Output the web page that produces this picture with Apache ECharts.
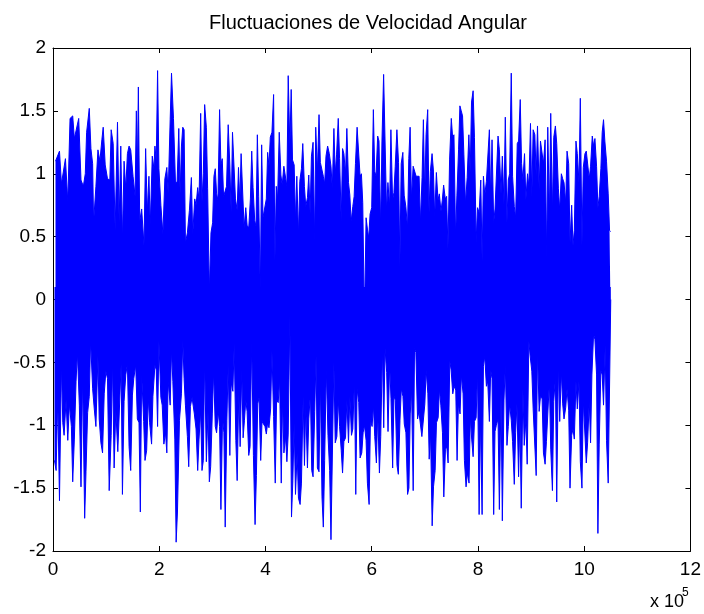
<!DOCTYPE html>
<html>
<head>
<meta charset="utf-8">
<script src="https://cdn.jsdelivr.net/npm/echarts@6/dist/echarts.min.js"></script>
<style>html,body{margin:0;padding:0;background:#fff;}#c{width:704px;height:614px;}</style>
</head>
<body>
<div id="c"></div>
<script>
// x in units of 1e5 samples, y = angular velocity fluctuation
const titleText = 'Fluctuaciones de Velocidad Angular';
const xTicks = [0, 2, 4, 6, 8, 10, 12];
const yTicks = [-2, -1.5, -1, -0.5, 0, 0.5, 1, 1.5, 2];
const xExponentBase = 'x 10';
const xExponent = '5';

// upper peaks of the signal
const upper = [
[0.047,1.10],[0.122,1.18],[0.159,0.92],[0.234,1.12],[0.278,0.78],[0.321,1.44],[0.371,1.46],[0.402,1.28],[0.484,1.44],[0.527,0.95],[0.571,0.90],[0.608,1.00],[0.633,1.33],[0.683,1.52],[0.714,1.20],[0.746,1.08],[0.764,0.61],[0.808,0.90],[0.846,1.19],[0.883,1.10],[0.920,1.27],[0.945,1.37],[0.983,1.07],[1.026,0.96],[1.070,0.95],[1.095,1.35],[1.133,1.24],[1.170,0.55],[1.214,1.41],[1.245,0.61],[1.276,1.22],[1.307,0.47],[1.338,1.10],[1.370,0.88],[1.401,1.16],[1.432,1.22],[1.463,1.19],[1.507,0.98],[1.545,0.82],[1.569,1.50],[1.588,1.00],[1.607,1.69],[1.632,0.62],[1.669,0.72],[1.713,0.43],[1.744,1.20],[1.775,0.69],[1.806,0.98],[1.831,0.59],[1.869,1.14],[1.900,1.04],[1.919,1.22],[1.944,1.10],[1.969,1.82],[1.994,1.04],[2.031,0.75],[2.069,0.52],[2.106,0.96],[2.143,1.05],[2.168,0.84],[2.206,1.43],[2.231,1.80],[2.268,1.44],[2.306,0.92],[2.337,0.94],[2.368,1.36],[2.393,0.84],[2.418,1.22],[2.443,1.37],[2.468,1.35],[2.493,0.45],[2.530,0.53],[2.568,0.71],[2.605,0.97],[2.630,0.51],
[2.668,0.80],[2.693,0.75],[2.724,0.89],[2.749,0.79],[2.780,1.48],[2.805,0.78],[2.830,1.00],[2.855,1.55],[2.887,1.37],[2.911,0.88],[2.943,0.06],[2.974,0.53],[3.005,0.61],[3.030,0.98],[3.055,1.04],[3.080,0.84],[3.105,0.79],[3.136,1.51],[3.161,1.07],[3.186,1.12],[3.211,0.82],[3.242,0.83],[3.267,0.90],[3.298,1.39],[3.329,1.07],[3.354,0.69],[3.379,1.33],[3.411,1.32],[3.435,0.80],[3.467,0.71],[3.492,1.05],[3.517,0.77],[3.541,1.16],[3.573,1.16],[3.598,0.57],[3.629,0.73],[3.654,0.59],[3.685,0.57],[3.716,0.80],[3.741,1.18],[3.766,0.89],[3.797,0.63],[3.822,0.58],[3.847,1.31],[3.872,0.82],[3.903,0.04],[3.928,1.23],[3.953,0.65],[3.984,0.65],[4.016,0.80],[4.041,1.17],[4.066,1.06],[4.091,1.29],[4.122,1.33],[4.153,1.63],[4.178,0.31],[4.203,0.90],[4.228,0.80],[4.259,1.33],[4.290,0.99],[4.315,0.91],[4.346,1.06],[4.371,1.06],[4.403,0.90],[4.428,1.78],[4.459,1.22],[4.484,1.67],[4.509,1.11],[4.540,1.07],[4.565,0.63],[4.590,0.98],[4.621,0.51],[4.646,0.94],[4.677,1.04],[4.702,1.24],[4.733,0.90],[4.758,0.74],[4.790,0.81],[4.815,0.99],[4.840,0.68],[4.865,1.14],[4.896,1.25],[4.927,0.45],[4.946,1.37],[4.977,1.01],[5.008,1.47],[5.033,1.09],[5.064,1.08],[5.089,0.98],[5.114,0.92],[5.139,1.14],[5.170,1.22],[5.202,1.16],[5.233,1.06],[5.258,0.88],
[5.288,1.36],[5.313,1.00],[5.338,1.15],[5.370,1.44],[5.395,1.12],[5.426,0.62],[5.451,1.20],[5.476,1.16],[5.507,1.00],[5.532,1.36],[5.563,0.93],[5.588,0.83],[5.613,0.62],[5.644,0.74],[5.669,0.82],[5.694,1.08],[5.725,1.37],[5.756,1.38],[5.781,0.98],[5.806,1.00],[5.831,0.77],[5.863,-0.18],[5.894,0.65],[5.919,0.56],[5.944,0.49],[5.969,0.68],[6.000,0.73],[6.031,1.51],[6.056,1.02],[6.081,0.98],[6.112,1.30],[6.137,1.26],[6.168,0.57],[6.193,1.26],[6.224,1.79],[6.249,1.30],[6.280,0.70],[6.305,0.93],[6.337,0.74],[6.361,1.35],[6.393,0.79],[6.418,0.85],[6.443,1.06],[6.474,1.35],[6.505,1.09],[6.530,0.26],[6.555,1.08],[6.586,1.17],[6.611,0.83],[6.642,0.74],[6.674,0.57],[6.698,1.12],[6.723,1.37],[6.748,0.80],[6.780,1.06],[6.805,1.05],[6.836,0.98],[6.861,0.98],[6.892,0.98],[6.917,0.61],[6.948,0.97],[6.973,1.43],[6.998,0.83],[7.023,1.31],[7.054,1.51],[7.079,0.69],[7.104,1.02],[7.136,1.16],[7.161,1.03],[7.186,0.65],[7.217,1.01],[7.248,0.79],[7.273,0.84],[7.304,0.70],[7.329,0.79],[7.354,0.91],[7.385,0.80],[7.410,0.82],[7.435,0.40],[7.466,1.11],[7.498,1.44],[7.523,1.29],[7.548,1.31],[7.579,0.50],[7.604,0.83],[7.635,1.19],[7.660,1.54],[7.685,1.50],[7.710,1.46],[7.735,1.15],[7.766,0.76],[7.797,0.97],[7.829,1.31],[7.854,1.01],[7.879,1.57],
[7.909,1.66],[7.934,1.29],[7.966,0.46],[7.991,0.73],[8.022,0.69],[8.053,0.95],[8.078,0.30],[8.103,0.98],[8.128,0.83],[8.159,0.94],[8.184,0.94],[8.215,1.35],[8.240,0.80],[8.265,1.27],[8.296,0.61],[8.321,0.72],[8.346,0.73],[8.378,1.30],[8.403,1.19],[8.434,0.84],[8.459,1.14],[8.490,0.76],[8.515,1.45],[8.546,0.61],[8.571,0.95],[8.596,1.00],[8.627,1.80],[8.652,0.98],[8.684,0.74],[8.709,0.65],[8.740,1.24],[8.765,1.26],[8.796,1.59],[8.821,1.08],[8.846,0.95],[8.877,1.16],[8.902,0.79],[8.933,1.00],[8.958,0.90],[8.989,1.40],[9.014,0.81],[9.039,1.35],[9.071,1.31],[9.096,0.98],[9.121,1.38],[9.152,0.87],[9.177,1.26],[9.208,1.26],[9.233,1.08],[9.264,1.27],[9.295,0.32],[9.314,1.37],[9.345,0.66],[9.370,1.48],[9.402,0.69],[9.427,1.29],[9.458,1.38],[9.483,1.24],[9.514,0.88],[9.539,0.71],[9.570,1.00],[9.595,0.96],[9.620,0.93],[9.652,0.77],[9.677,1.18],[9.708,1.08],[9.733,0.45],[9.764,0.75],[9.789,0.43],[9.814,0.55],[9.845,1.26],[9.870,1.16],[9.902,0.93],[9.927,1.60],[9.958,0.43],[9.983,1.05],[10.014,1.16],[10.039,1.18],[10.064,1.17],[10.095,0.96],[10.120,1.06],[10.152,1.30],[10.177,1.22],[10.202,1.28],[10.233,1.06],[10.258,0.73],[10.283,0.82],[10.314,1.04],[10.339,1.33],[10.364,1.43],[10.389,1.26],[10.420,1.10],[10.452,0.84],[10.477,0.55],[10.496,0.54]
];

// lower troughs of the signal
const lower = [
[0.028,-1.28],[0.059,-1.36],[0.090,-0.78],[0.122,-1.60],[0.159,-0.51],[0.184,-0.98],[0.209,-1.08],[0.246,-0.80],[0.278,-1.12],[0.309,-0.83],[0.346,-1.01],[0.371,-1.45],[0.402,-1.11],[0.434,-0.65],[0.459,-0.42],[0.496,-0.84],[0.527,-1.49],[0.558,-0.60],[0.596,-1.74],[0.621,-1.37],[0.652,-0.90],[0.683,-0.77],[0.708,-0.32],[0.746,-0.71],[0.777,-0.87],[0.808,-1.01],[0.846,-0.45],[0.870,-0.95],[0.902,-1.14],[0.933,-1.22],[0.964,-0.75],[0.995,-0.57],[1.026,-0.63],[1.058,-1.52],[1.095,-1.08],[1.120,-0.49],[1.151,-1.34],[1.182,-0.88],[1.220,-1.21],[1.257,-1.22],[1.282,-0.51],[1.307,-1.55],[1.338,-0.81],[1.370,-0.60],[1.401,-0.51],[1.432,-1.17],[1.463,-1.36],[1.495,-0.76],[1.520,-0.63],[1.557,-0.52],[1.588,-0.95],[1.619,-0.98],[1.644,-1.69],[1.669,-0.59],[1.707,-0.97],[1.732,-1.28],[1.763,-1.20],[1.794,-0.78],[1.819,-0.98],[1.856,-1.15],[1.881,-0.77],[1.919,-0.52],[1.944,-0.56],[1.969,-1.01],[1.994,-0.33],[2.031,-0.78],[2.056,-0.84],[2.087,-1.15],[2.118,-1.06],[2.143,-1.22],[2.168,-0.65],[2.206,-0.84],[2.231,-0.40],[2.256,-0.65],[2.293,-1.11],[2.318,-1.93],[2.343,-1.69],[2.381,-0.96],[2.418,-0.75],[2.443,-0.32],[2.468,-0.63],[2.493,-0.84],[2.530,-1.09],[2.555,-1.33],[2.587,-0.85],[2.618,-0.78],
[2.661,-0.91],[2.693,-1.03],[2.724,-1.36],[2.749,-1.11],[2.780,-0.88],[2.805,-1.36],[2.830,-1.28],[2.855,-0.46],[2.887,-1.29],[2.918,-0.89],[2.943,-1.45],[2.968,-1.33],[2.999,-0.91],[3.024,-0.57],[3.055,-1.01],[3.080,-1.06],[3.111,-0.89],[3.136,-1.01],[3.161,-1.67],[3.192,-0.94],[3.217,-1.06],[3.242,-1.81],[3.273,-0.96],[3.298,-0.52],[3.329,-1.24],[3.354,-0.66],[3.386,-0.73],[3.411,-0.35],[3.442,-1.12],[3.467,-1.44],[3.498,-0.73],[3.523,-1.17],[3.554,-0.56],[3.579,-1.10],[3.604,-0.96],[3.629,-0.80],[3.654,-0.89],[3.685,-1.24],[3.710,-1.17],[3.741,-0.33],[3.773,-1.24],[3.804,-1.79],[3.829,-1.40],[3.854,-0.83],[3.879,-0.78],[3.910,-1.28],[3.935,-0.97],[3.966,-0.98],[3.991,-1.01],[4.016,-1.07],[4.041,-0.98],[4.066,-1.02],[4.097,-0.87],[4.122,-0.41],[4.153,-0.93],[4.184,-1.46],[4.209,-0.80],[4.240,-0.82],[4.265,-0.63],[4.297,-1.46],[4.322,-0.79],[4.347,-1.22],[4.378,-1.09],[4.403,-1.29],[4.428,-1.07],[4.459,-0.13],[4.490,-1.73],[4.515,-1.44],[4.540,-0.98],[4.565,-1.55],[4.596,-1.22],[4.621,-1.58],[4.652,-1.63],[4.677,-1.46],[4.709,-0.77],[4.734,-1.32],[4.758,-0.85],[4.790,-1.34],[4.815,-0.95],[4.846,-0.74],[4.871,-1.36],[4.896,-1.41],[4.927,-0.89],[4.952,-0.45],[4.977,-1.34],[5.008,-1.37],[5.033,-0.63],[5.064,-1.57],[5.089,-1.81],[5.114,-1.28],[5.145,-0.55],[5.177,-1.08],[5.208,-1.36],[5.233,-1.91],
[5.288,-0.50],[5.313,-1.14],[5.344,-1.09],[5.370,-0.79],[5.395,-1.01],[5.426,-1.20],[5.451,-1.38],[5.476,-1.13],[5.507,-1.10],[5.532,-0.80],[5.563,-1.14],[5.588,-0.77],[5.619,-1.08],[5.644,-1.03],[5.675,-0.63],[5.700,-1.55],[5.725,-0.71],[5.756,-0.82],[5.781,-1.26],[5.813,-1.22],[5.838,-1.06],[5.863,-1.00],[5.894,-1.12],[5.919,-1.46],[5.951,-1.63],[5.976,-0.96],[6.007,-1.01],[6.032,-0.84],[6.057,-1.09],[6.088,-1.30],[6.113,-0.89],[6.145,-1.38],[6.170,-1.09],[6.201,-0.38],[6.226,-1.02],[6.251,-0.39],[6.282,-0.58],[6.307,-1.05],[6.338,-0.51],[6.363,-0.79],[6.394,-1.34],[6.419,-0.77],[6.444,-0.80],[6.476,-1.32],[6.501,-1.39],[6.532,-0.96],[6.557,-0.71],[6.588,-0.77],[6.613,-0.99],[6.644,-1.06],[6.675,-1.55],[6.700,-1.50],[6.725,-0.91],[6.750,-0.71],[6.781,-1.52],[6.806,-0.39],[6.831,-0.42],[6.863,-0.95],[6.888,-0.89],[6.919,-0.90],[6.944,-1.09],[6.969,-1.09],[7.000,-0.83],[7.025,-0.56],[7.057,-0.75],[7.082,-1.27],[7.107,-1.06],[7.138,-1.80],[7.163,-1.49],[7.194,-1.36],[7.219,-0.98],[7.251,-0.94],[7.276,-0.71],[7.301,-0.84],[7.332,-1.06],[7.357,-1.57],[7.388,-1.19],[7.413,-1.17],[7.438,-1.30],[7.470,-0.49],[7.495,-0.56],[7.526,-0.75],[7.551,-0.69],[7.582,-0.72],[7.607,-1.28],[7.632,-0.83],[7.663,-0.91],[7.688,-0.60],[7.720,-0.75],[7.745,-1.28],[7.776,-1.49],[7.801,-1.38],[7.832,-1.46],[7.857,-0.93],[7.882,-1.11],
[7.909,-1.25],[7.934,-0.97],[7.966,-0.94],[7.991,-0.57],[8.022,-1.71],[8.047,-0.94],[8.078,-1.71],[8.103,-0.53],[8.128,-0.45],[8.159,-0.69],[8.184,-0.65],[8.215,-0.97],[8.240,-0.56],[8.265,-0.63],[8.296,-1.71],[8.321,-1.05],[8.346,-1.00],[8.378,-0.95],[8.403,-1.67],[8.434,-0.74],[8.459,-1.76],[8.490,-0.80],[8.515,-0.52],[8.546,-1.16],[8.571,-1.01],[8.596,-0.83],[8.627,-0.96],[8.652,-1.13],[8.684,-1.47],[8.709,-1.06],[8.734,-0.83],[8.765,-1.41],[8.790,-0.94],[8.815,-1.66],[8.846,-0.71],[8.871,-1.16],[8.902,-0.96],[8.927,-1.31],[8.958,-0.33],[8.983,-0.45],[9.014,-0.57],[9.039,-0.87],[9.071,-0.87],[9.096,-1.40],[9.121,-0.40],[9.152,-0.89],[9.177,-0.77],[9.208,-0.79],[9.233,-1.22],[9.264,-1.31],[9.289,-1.13],[9.314,-1.14],[9.345,-0.65],[9.370,-1.19],[9.402,-1.52],[9.427,-0.81],[9.458,-0.62],[9.483,-1.61],[9.514,-0.50],[9.539,-0.97],[9.570,-0.57],[9.595,-0.83],[9.620,-0.95],[9.652,-0.86],[9.677,-0.71],[9.708,-0.88],[9.733,-1.50],[9.764,-1.08],[9.789,-1.03],[9.814,-1.11],[9.845,-0.65],[9.870,-0.87],[9.902,-0.65],[9.927,-1.29],[9.958,-1.50],[9.983,-0.80],[10.008,-0.81],[10.039,-1.30],[10.064,-1.14],[10.095,-0.81],[10.120,-1.14],[10.145,-0.60],[10.177,-0.27],[10.202,-0.32],[10.233,-0.60],[10.258,-1.86],[10.283,-1.15],[10.314,-0.56],[10.339,-0.60],[10.364,-0.84],[10.395,-0.36],[10.420,-1.12],[10.452,-1.46],[10.500,0.00]
];

const FONT = '"Liberation Sans", Arial, Helvetica, sans-serif';
const BLUE = '#0000ff';
const chart = echarts.init(document.getElementById('c'), null, {renderer: 'canvas'});

const axisCommon = {
  type: 'value',
  axisLine: {show: true, onZero: false, lineStyle: {color: '#000', width: 1}},
  axisTick: {show: true, inside: true, length: 5, lineStyle: {color: '#000'}},
  splitLine: {show: false}
};

// each envelope is filled towards the centre line; the two fills overlap slightly
function envelopeSeries(name, data, origin, z) {
  return {
    name: name,
    type: 'line',
    xAxisIndex: 0,
    yAxisIndex: 0,
    z: z,
    data: data,
    showSymbol: false,
    symbol: 'none',
    sampling: null,
    lineStyle: {color: BLUE, width: 1},
    areaStyle: {color: BLUE, opacity: 1, origin: origin},
    silent: true
  };
}

chart.setOption({
  animation: false,
  backgroundColor: '#fff',
  grid: {left: 53, right: 9, top: 48, bottom: 63, containLabel: false},
  graphic: [
    {type: 'text', x: 368, y: 23, style: {text: titleText, font: '20px ' + FONT, fill: '#000', align: 'center', verticalAlign: 'middle'}},
    {type: 'text', x: 650, y: 602, style: {text: xExponentBase, font: '18px ' + FONT, fill: '#000', align: 'left', verticalAlign: 'middle'}},
    {type: 'text', x: 682, y: 593, style: {text: xExponent, font: '12px ' + FONT, fill: '#000', align: 'left', verticalAlign: 'middle'}}
  ],
  xAxis: [
    Object.assign({}, axisCommon, {
      position: 'bottom', min: xTicks[0], max: xTicks[xTicks.length - 1], interval: 2,
      axisLabel: {show: true, color: '#000', fontSize: 19, fontFamily: FONT, margin: 9,
        formatter: v => String(v)}
    }),
    Object.assign({}, axisCommon, {
      position: 'top', min: xTicks[0], max: xTicks[xTicks.length - 1], interval: 2,
      axisLabel: {show: false}
    })
  ],
  yAxis: [
    Object.assign({}, axisCommon, {
      position: 'left', min: yTicks[0], max: yTicks[yTicks.length - 1], interval: 0.5,
      axisLabel: {show: true, color: '#000', fontSize: 19, fontFamily: FONT, margin: 7,
        formatter: v => String(v)}
    }),
    Object.assign({}, axisCommon, {
      position: 'right', min: yTicks[0], max: yTicks[yTicks.length - 1], interval: 0.5,
      axisLabel: {show: false}
    })
  ],
  series: [
    envelopeSeries('upper', upper, -0.1, 2),
    envelopeSeries('lower', lower, 0.1, 3)
  ]
});
</script>
</body>
</html>
